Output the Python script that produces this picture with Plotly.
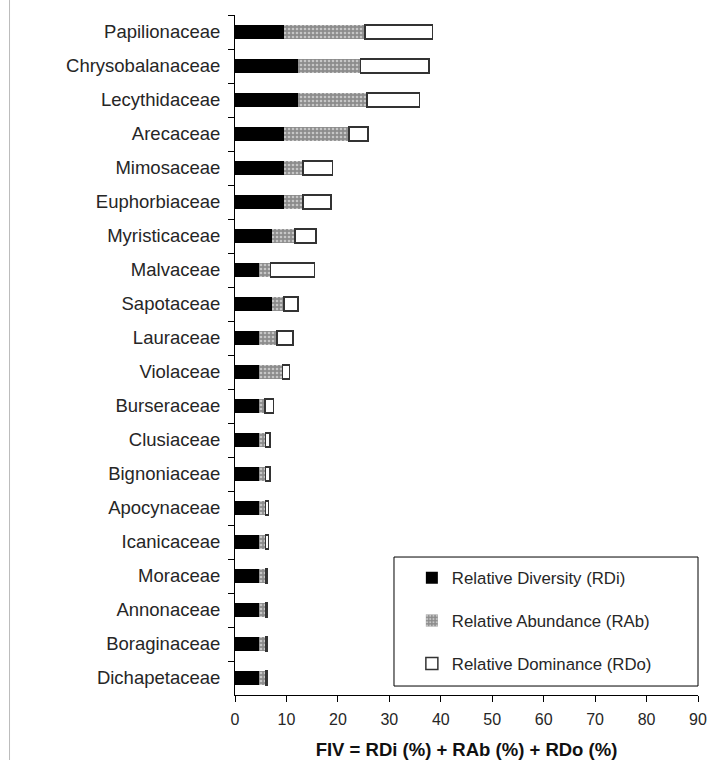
import plotly.graph_objects as go

families = ["Papilionaceae", "Chrysobalanaceae", "Lecythidaceae", "Arecaceae", "Mimosaceae",
            "Euphorbiaceae", "Myristicaceae", "Malvaceae", "Sapotaceae", "Lauraceae",
            "Violaceae", "Burseraceae", "Clusiaceae", "Bignoniaceae", "Apocynaceae",
            "Icanicaceae", "Moraceae", "Annonaceae", "Boraginaceae", "Dichapetaceae"]
rdi = [9.6, 12.2, 12.2, 9.6, 9.6, 9.6, 7.1, 4.7, 7.1, 4.7,
       4.7, 4.7, 4.7, 4.7, 4.7, 4.7, 4.7, 4.7, 4.7, 4.7]
rab = [15.7, 12.2, 13.5, 12.6, 3.6, 3.6, 4.6, 2.2, 2.4, 3.5,
       4.5, 1.1, 1.2, 1.2, 1.2, 1.2, 1.2, 1.2, 1.2, 1.2]
rdo = [13.1, 13.3, 10.2, 3.7, 5.8, 5.5, 4.0, 8.6, 2.7, 3.1,
       1.4, 1.7, 0.9, 0.9, 0.6, 0.6, 0.3, 0.3, 0.3, 0.3]
x_ticks = [0, 10, 20, 30, 40, 50, 60, 70, 80, 90]

FONT = "Liberation Sans, Arial, sans-serif"
TXT = "#262626"

fig = go.Figure()
fig.add_trace(go.Bar(y=families, x=rdi, orientation="h", name="Relative Diversity (RDi)",
                     legendgroup="a",
                     marker=dict(color="#000000", line=dict(width=0))))
fig.add_trace(go.Bar(y=families, x=rab, orientation="h", name="Relative Abundance (RAb)",
                     legendgroup="b",
                     marker=dict(color="#8c8c8c", line=dict(width=0),
                                 pattern=dict(shape=".", fgcolor="#ffffff", bgcolor="#8c8c8c",
                                              size=4, solidity=0.35))))
fig.add_trace(go.Bar(y=families, x=rdo, orientation="h", name="Relative Dominance (RDo)",
                     legendgroup="c",
                     marker=dict(color="#ffffff", line=dict(width=1.5, color="#333333"))))

fig.update_layout(
    width=707, height=760,
    margin=dict(l=235, r=9, t=15, b=65),
    barmode="stack", bargap=0.59,
    plot_bgcolor="white", paper_bgcolor="white",
    font=dict(family=FONT, color=TXT),
    showlegend=True,
    legend=dict(x=0.382, xanchor="left", y=0.198, yanchor="top",
                traceorder="grouped", tracegroupgap=18,
                bgcolor="rgba(0,0,0,0)", borderwidth=0,
                font=dict(size=16.8, color=TXT, family=FONT)),
    xaxis=dict(range=[0, 90], tickvals=x_ticks, showgrid=False, zeroline=False,
               automargin=False,
               showline=True, linecolor="#000000", linewidth=1,
               ticks="outside", ticklen=6, tickcolor="#000000",
               tickfont=dict(size=16, color=TXT), ticklabelstandoff=4,
               title=dict(text="<b>FIV = RDi (%) + RAb (%) + RDo (%)</b>",
                          font=dict(size=18.5, color="#111111"), standoff=15)),
    yaxis=dict(autorange="reversed", showgrid=False, zeroline=False,
               automargin=False,
               showline=True, linecolor="#000000", linewidth=1,
               ticks="outside", ticklen=6, tickcolor="#000000", tickson="boundaries",
               tickfont=dict(size=18.5, color=TXT), ticklabelstandoff=10),
    shapes=[
        dict(type="rect", xref="paper", yref="paper", x0=0.3434, x1=1.0, y0=0.0132, y1=0.2029,
             line=dict(color="#000000", width=1), fillcolor="rgba(0,0,0,0)"),
        dict(type="line", xref="paper", yref="paper", x0=-0.487, x1=-0.487, y0=-0.0956, y1=1.022,
             line=dict(color="#bbbbbb", width=1)),
    ],
)

fig.write_html("out.html",
               config={"displayModeBar": False},
               post_script="document.body.style.margin='0';document.body.style.overflow='hidden';")
